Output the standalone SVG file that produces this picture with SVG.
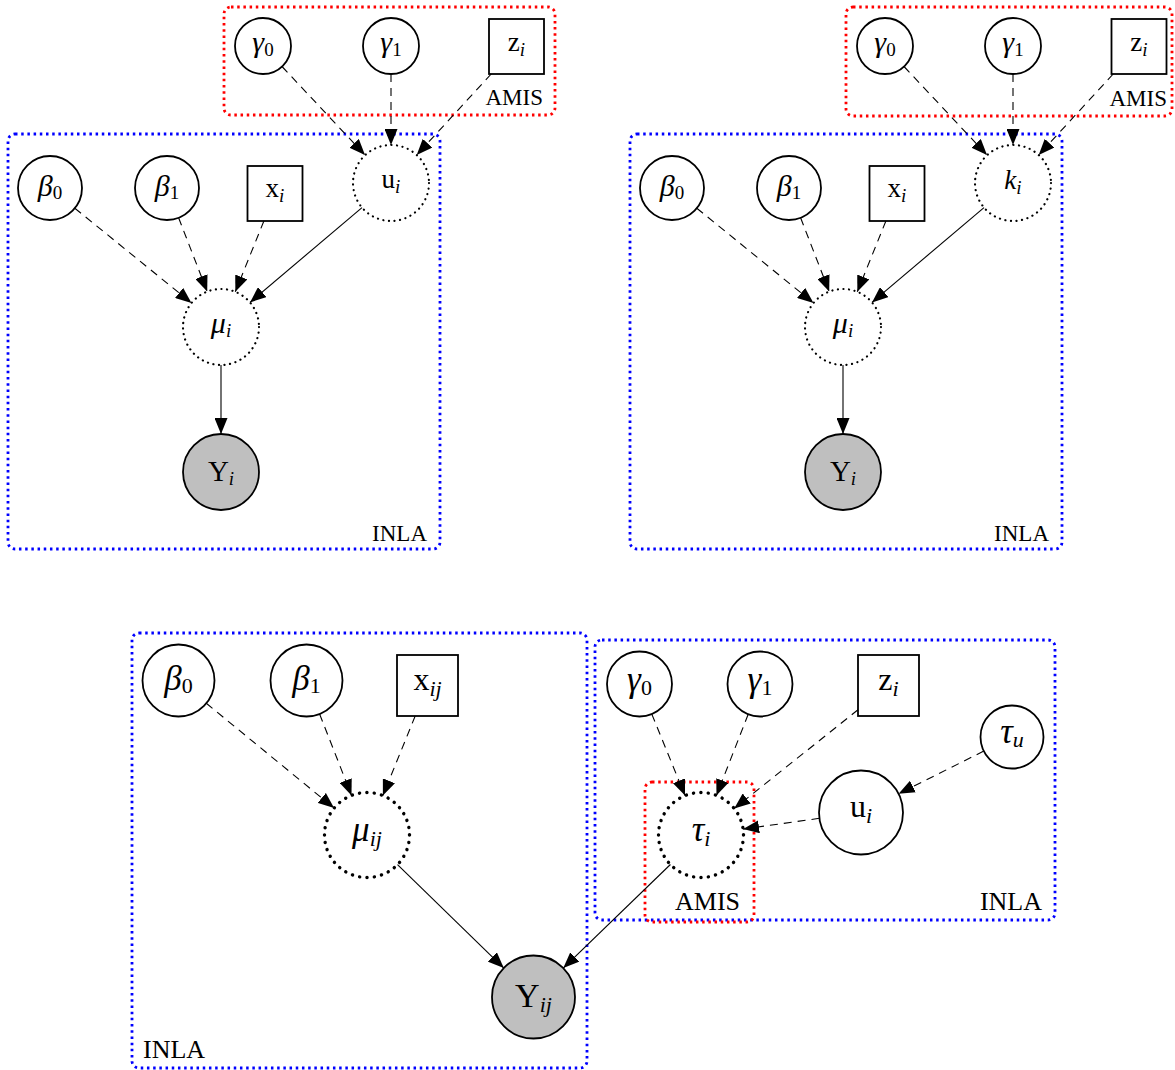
<svg xmlns="http://www.w3.org/2000/svg" width="1175" height="1070" viewBox="0 0 1175 1070">
<style>
text{font-family:"Liberation Serif","DejaVu Serif",serif;fill:#000}
.l1{font-size:27px;text-anchor:middle}
.l2{font-size:32px;text-anchor:middle}
.s1{font-size:19px}
.s2{font-size:22px}
.it{font-style:italic}
.t1{font-size:23px}
.t2{font-size:26px}
.nd{fill:#fff;stroke:#000;stroke-width:1.8}
.obs{fill:#bfbfbf;stroke:#000;stroke-width:1.8}
.lat1{fill:#fff;stroke:#000;stroke-width:2.2;stroke-linecap:round;stroke-dasharray:0.1 5.5}
.lat2{fill:#fff;stroke:#000;stroke-width:3.4;stroke-linecap:round;stroke-dasharray:0.1 7.3}
.pb{fill:none;stroke:#0000ff;stroke-width:2.8;stroke-dasharray:2.5 3.7}
.pr{fill:none;stroke:#ff0000;stroke-width:2.8;stroke-dasharray:2.5 3.7}
.e{fill:none;stroke:#000;stroke-width:1.1;marker-end:url(#ah)}
.d{stroke-dasharray:8 6}
</style>
<defs>
<marker id="ah" viewBox="0 0 16 13" refX="16" refY="6.5" markerWidth="16" markerHeight="13" markerUnits="userSpaceOnUse" orient="auto">
<path d="M0,0 L16,6.5 L0,13 z" fill="#000"/>
</marker>
</defs>
<rect width="1175" height="1070" fill="#fff"/>

<!-- plates -->
<g id="plates">
<rect class="pb" x="8" y="134" width="432" height="415" rx="7"/>
<text class="t1" x="427" y="541" text-anchor="end">INLA</text>
<rect class="pr" x="224" y="7" width="331" height="108" rx="7"/>
<text class="t1" x="543" y="105" text-anchor="end">AMIS</text>

<rect class="pb" x="630" y="134" width="432" height="415" rx="7"/>
<text class="t1" x="1049" y="541" text-anchor="end">INLA</text>
<rect class="pr" x="846" y="7" width="326" height="109" rx="7"/>
<text class="t1" x="1167" y="106" text-anchor="end">AMIS</text>

<rect class="pb" x="132" y="633" width="455" height="435" rx="7"/>
<text class="t2" x="143" y="1058">INLA</text>
<rect class="pb" x="595" y="640" width="460" height="280" rx="7"/>
<text class="t2" x="1042" y="910" text-anchor="end">INLA</text>
<rect class="pr" x="645" y="782" width="109" height="140" rx="7"/>
<text class="t2" x="675" y="910">AMIS</text>
</g>

<!-- top-left nodes -->
<g id="tl_gamma0"><circle class="nd" cx="263" cy="46" r="28"/><text x="263" y="52" text-anchor="middle" font-size="30" font-style="italic">γ<tspan font-size="19" font-style="normal" dy="4">0</tspan></text></g>
<g id="tl_gamma1"><circle class="nd" cx="391" cy="46" r="28"/><text x="391" y="52" text-anchor="middle" font-size="30" font-style="italic">γ<tspan font-size="19" font-style="normal" dy="4">1</tspan></text></g>
<g id="tl_z"><rect class="nd" x="489" y="19" width="55" height="55"/><text class="l1" x="516.5" y="51">z<tspan class="s1 it" dy="5">i</tspan></text></g>
<g id="tl_u"><circle class="lat1" cx="391" cy="183" r="38"/><text class="l1" x="391" y="188">u<tspan class="s1 it" dy="5">i</tspan></text></g>
<g id="tl_beta0"><circle class="nd" cx="50" cy="188" r="32"/><text x="50" y="196" text-anchor="middle" font-size="30" font-style="italic">β<tspan font-size="19" font-style="normal" dy="3">0</tspan></text></g>
<g id="tl_beta1"><circle class="nd" cx="167" cy="188" r="32"/><text x="167" y="196" text-anchor="middle" font-size="30" font-style="italic">β<tspan font-size="19" font-style="normal" dy="3">1</tspan></text></g>
<g id="tl_x"><rect class="nd" x="247.5" y="166" width="55" height="55"/><text class="l1" x="275" y="197">x<tspan class="s1 it" dy="5">i</tspan></text></g>
<g id="tl_mu"><circle class="lat1" cx="221" cy="327" r="38"/><text x="221" y="333" text-anchor="middle" font-size="30" font-style="italic">μ<tspan font-size="19" dy="4">i</tspan></text></g>
<g id="tl_Y"><circle class="obs" cx="221" cy="472" r="38"/><text class="l1" x="221" y="481" style="font-size:29px">Y<tspan class="s1 it" dy="4">i</tspan></text></g>

<!-- top-right nodes -->
<g id="tr_gamma0"><circle class="nd" cx="885" cy="46" r="28"/><text x="885" y="52" text-anchor="middle" font-size="30" font-style="italic">γ<tspan font-size="19" font-style="normal" dy="4">0</tspan></text></g>
<g id="tr_gamma1"><circle class="nd" cx="1013" cy="46" r="28"/><text x="1013" y="52" text-anchor="middle" font-size="30" font-style="italic">γ<tspan font-size="19" font-style="normal" dy="4">1</tspan></text></g>
<g id="tr_z"><rect class="nd" x="1111.5" y="19" width="55" height="55"/><text class="l1" x="1139" y="51">z<tspan class="s1 it" dy="5">i</tspan></text></g>
<g id="tr_k"><circle class="lat1" cx="1013" cy="183" r="38"/><text class="l1" x="1013" y="189"><tspan class="it">k</tspan><tspan class="s1 it" dy="5">i</tspan></text></g>
<g id="tr_beta0"><circle class="nd" cx="672" cy="188" r="32"/><text x="672" y="196" text-anchor="middle" font-size="30" font-style="italic">β<tspan font-size="19" font-style="normal" dy="3">0</tspan></text></g>
<g id="tr_beta1"><circle class="nd" cx="789" cy="188" r="32"/><text x="789" y="196" text-anchor="middle" font-size="30" font-style="italic">β<tspan font-size="19" font-style="normal" dy="3">1</tspan></text></g>
<g id="tr_x"><rect class="nd" x="869.5" y="166" width="55" height="55"/><text class="l1" x="897" y="197">x<tspan class="s1 it" dy="5">i</tspan></text></g>
<g id="tr_mu"><circle class="lat1" cx="843" cy="327" r="38"/><text x="843" y="333" text-anchor="middle" font-size="30" font-style="italic">μ<tspan font-size="19" dy="4">i</tspan></text></g>
<g id="tr_Y"><circle class="obs" cx="843" cy="472" r="38"/><text class="l1" x="843" y="481" style="font-size:29px">Y<tspan class="s1 it" dy="4">i</tspan></text></g>

<!-- bottom nodes -->
<g id="b_beta0"><circle class="nd" cx="178.5" cy="680.5" r="36"/><text x="178.5" y="690" text-anchor="middle" font-size="35" font-style="italic">β<tspan font-size="22" font-style="normal" dy="3">0</tspan></text></g>
<g id="b_beta1"><circle class="nd" cx="306.5" cy="680.5" r="36"/><text x="306.5" y="690" text-anchor="middle" font-size="35" font-style="italic">β<tspan font-size="22" font-style="normal" dy="3">1</tspan></text></g>
<g id="b_x"><rect class="nd" x="397" y="655" width="61" height="61"/><text class="l2" x="427.5" y="690">x<tspan class="s2 it" dy="6">ij</tspan></text></g>
<g id="b_mu"><circle class="lat2" cx="367" cy="835" r="42.5"/><text x="367" y="841" text-anchor="middle" font-size="35" font-style="italic">μ<tspan font-size="22" dy="5">ij</tspan></text></g>
<g id="b_Y"><circle class="obs" cx="533.5" cy="997" r="41.5"/><text class="l2" x="533.5" y="1007" style="font-size:34px">Y<tspan class="s2 it" dy="5">ij</tspan></text></g>
<g id="b_gamma0"><circle class="nd" cx="639.5" cy="684" r="32.5"/><text x="639.5" y="691" text-anchor="middle" font-size="35" font-style="italic">γ<tspan font-size="22" font-style="normal" dy="4">0</tspan></text></g>
<g id="b_gamma1"><circle class="nd" cx="760" cy="684" r="32.5"/><text x="760" y="691" text-anchor="middle" font-size="35" font-style="italic">γ<tspan font-size="22" font-style="normal" dy="4">1</tspan></text></g>
<g id="b_z"><rect class="nd" x="858" y="655" width="61" height="61"/><text class="l2" x="888.5" y="690">z<tspan class="s2 it" dy="6">i</tspan></text></g>
<g id="b_tauu"><circle class="nd" cx="1012" cy="737" r="31.5"/><text x="1012" y="743" text-anchor="middle" font-size="35" font-style="italic">τ<tspan font-size="22" dy="4">u</tspan></text></g>
<g id="b_u"><circle class="nd" cx="861" cy="812.5" r="42"/><text class="l2" x="861" y="817">u<tspan class="s2 it" dy="6">i</tspan></text></g>
<g id="b_taui"><circle class="lat2" cx="701" cy="835" r="42.5"/><text x="701" y="841" text-anchor="middle" font-size="35" font-style="italic">τ<tspan font-size="22" dy="5">i</tspan></text></g>

<!-- connectors -->
<g id="edges">
<line class="e d" x1="282" y1="66.5" x2="365" y2="155"/>
<line class="e d" x1="391" y1="74" x2="391" y2="145"/>
<line class="e d" x1="491.2" y1="74" x2="416.7" y2="155"/>
<line class="e d" x1="74.8" y1="208.2" x2="191.5" y2="303"/>
<line class="e d" x1="178.6" y1="217.8" x2="207.2" y2="291.6"/>
<line class="e d" x1="263.9" y1="221" x2="235.3" y2="291.8"/>
<line class="e" x1="362" y1="207.6" x2="250" y2="302.4"/>
<line class="e" x1="221" y1="365" x2="221" y2="434"/>

<line class="e d" x1="904" y1="66.5" x2="987" y2="155"/>
<line class="e d" x1="1013" y1="74" x2="1013" y2="145"/>
<line class="e d" x1="1113.2" y1="74" x2="1038.7" y2="155"/>
<line class="e d" x1="696.8" y1="208.2" x2="813.5" y2="303"/>
<line class="e d" x1="800.6" y1="217.8" x2="829.2" y2="291.6"/>
<line class="e d" x1="885.9" y1="221" x2="857.3" y2="291.8"/>
<line class="e" x1="984" y1="207.6" x2="872" y2="302.4"/>
<line class="e" x1="843" y1="365" x2="843" y2="434"/>

<line class="e d" x1="206.3" y1="703.3" x2="334.1" y2="808.1"/>
<line class="e d" x1="319.6" y1="714" x2="351.5" y2="795.4"/>
<line class="e d" x1="415.2" y1="716" x2="382.9" y2="795.6"/>
<line class="e" x1="397.5" y1="864.6" x2="503.8" y2="968.1"/>
<line class="e d" x1="651.8" y1="714.1" x2="685" y2="795.6"/>
<line class="e d" x1="748.2" y1="714.3" x2="716.5" y2="795.4"/>
<line class="e d" x1="858" y1="709.8" x2="734.2" y2="808.5"/>
<line class="e d" x1="983.8" y1="751.1" x2="898.6" y2="793.7"/>
<line class="e d" x1="819.4" y1="818.3" x2="743.1" y2="829.1"/>
<line class="e" x1="670.4" y1="864.5" x2="563.3" y2="968.1"/>
</g>
</svg>
